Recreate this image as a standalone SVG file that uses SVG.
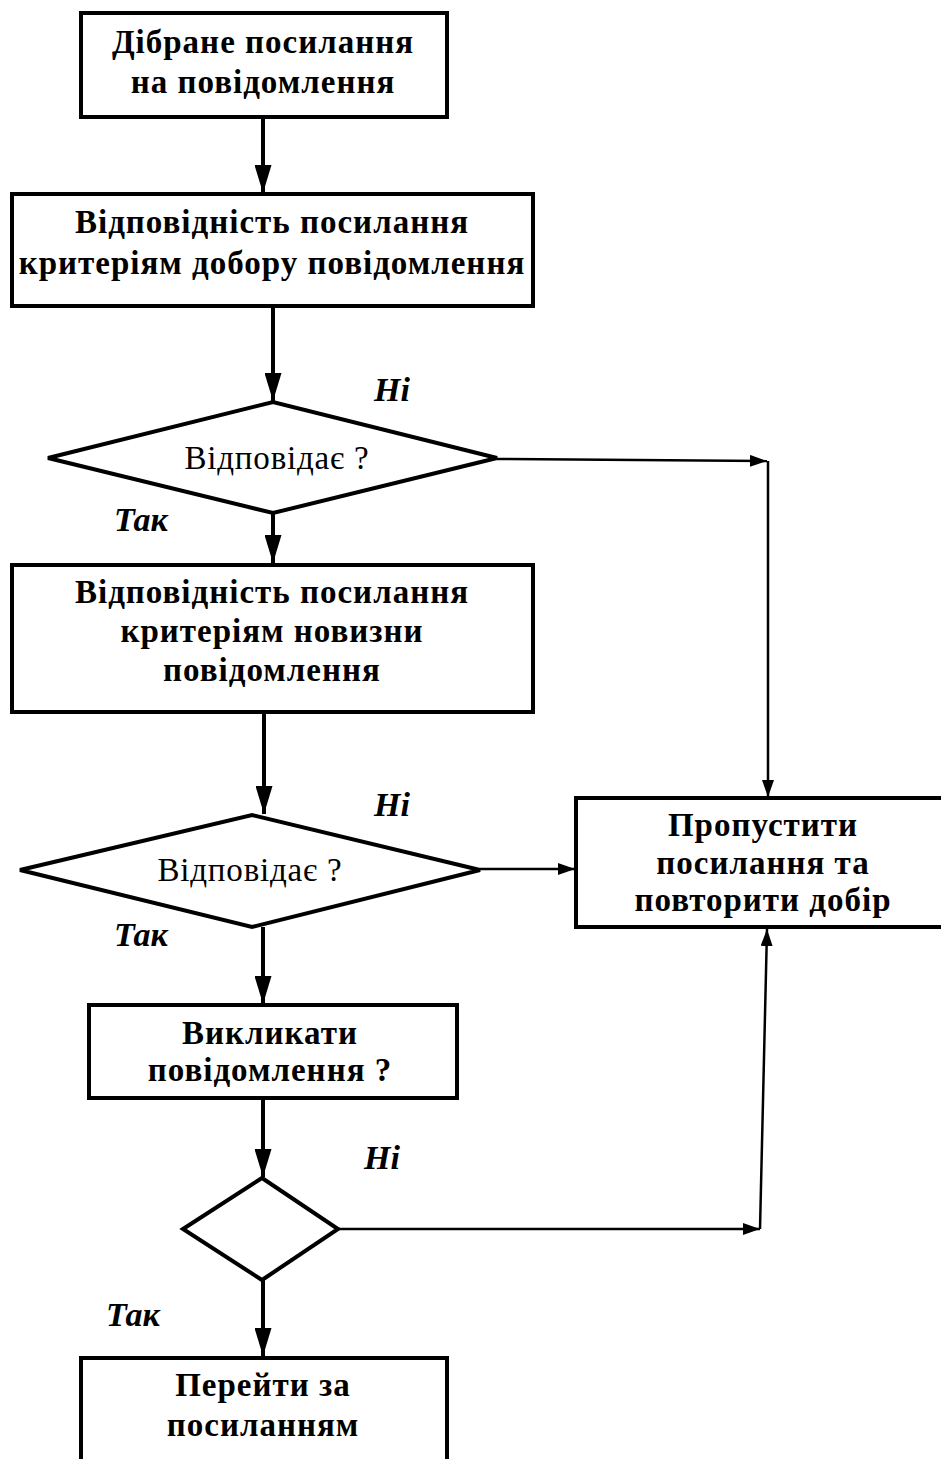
<svg xmlns="http://www.w3.org/2000/svg" width="941" height="1459" viewBox="0 0 941 1459">
  <style>
    .box { fill: #ffffff; stroke: #000000; stroke-width: 4; }
    .dia { fill: #ffffff; stroke: #000000; stroke-width: 4; stroke-linejoin: miter; }
    .t { font-family: "Liberation Serif", "Times New Roman", serif; font-size: 33px; letter-spacing: 1px; font-weight: bold; text-anchor: middle; fill: #000000; }
    .q { font-family: "Liberation Serif", "Times New Roman", serif; font-size: 33px; letter-spacing: 0.8px; text-anchor: middle; fill: #000000; }
    .lbl { font-family: "Liberation Serif", "Times New Roman", serif; font-size: 34px; font-weight: bold; font-style: italic; fill: #000000; }
    .main { fill: none; stroke: #000000; stroke-width: 4; marker-end: url(#arrowBig); }
    .sideArrow { fill: none; stroke: #000000; stroke-width: 2.5; marker-end: url(#arrowSmall); }
  </style>
  <defs>
    <marker id="arrowBig" markerUnits="userSpaceOnUse" markerWidth="28" markerHeight="17" refX="28" refY="8.5" viewBox="0 0 28 17" orient="auto">
      <path d="M0,0 L28,8.5 L0,17 z" fill="#000000"/>
    </marker>
    <marker id="arrowSmall" markerUnits="userSpaceOnUse" markerWidth="17" markerHeight="12" refX="17" refY="6" viewBox="0 0 17 12" orient="auto">
      <path d="M0,0 L17,6 L0,12 z" fill="#000000"/>
    </marker>
  </defs>

  <rect width="941" height="1459" fill="#ffffff"/>

  <!-- connectors -->
  <g id="connectors">
    <line class="main" x1="263" y1="117" x2="263" y2="193"/>
    <line class="main" x1="273" y1="306" x2="273" y2="401"/>
    <line class="main" x1="273" y1="513" x2="273" y2="563"/>
    <line class="main" x1="264" y1="712" x2="264" y2="814"/>
    <line class="main" x1="263" y1="927" x2="263" y2="1004"/>
    <line class="main" x1="263" y1="1098" x2="263" y2="1177"/>
    <line class="main" x1="263" y1="1280" x2="263" y2="1356"/>

    <line class="sideArrow" x1="497" y1="459" x2="767" y2="461"/>
    <line class="sideArrow" x1="768" y1="461" x2="768" y2="797"/>
    <line class="sideArrow" x1="480" y1="869" x2="575" y2="869"/>
    <line class="sideArrow" x1="338" y1="1229" x2="760" y2="1229"/>
    <line class="sideArrow" x1="760" y1="1229" x2="767" y2="929"/>

    <text class="lbl" x="374" y="401">Ні</text>
    <text class="lbl" x="114" y="531">Так</text>
    <text class="lbl" x="374" y="816">Ні</text>
    <text class="lbl" x="114" y="946">Так</text>
    <text class="lbl" x="364" y="1169">Ні</text>
    <text class="lbl" x="106" y="1326">Так</text>
  </g>

  <g id="n-selected">
    <rect class="box" x="81" y="13" width="366" height="104"/>
    <text class="t" x="263" y="53">Дібране посилання</text>
    <text class="t" x="263" y="93">на повідомлення</text>
  </g>

  <g id="n-criteria-select">
    <rect class="box" x="12" y="194" width="521" height="112"/>
    <text class="t" x="272" y="233">Відповідність посилання</text>
    <text class="t" x="272" y="274">критеріям добору повідомлення</text>
  </g>

  <g id="d-match1">
    <polygon class="dia" points="48,458 273,402 497,458 273,513"/>
    <text class="q" x="277" y="469">Відповідає ?</text>
  </g>

  <g id="n-criteria-new">
    <rect class="box" x="12" y="565" width="521" height="147"/>
    <text class="t" x="272" y="603">Відповідність посилання</text>
    <text class="t" x="272" y="642">критеріям новизни</text>
    <text class="t" x="272" y="681">повідомлення</text>
  </g>

  <g id="d-match2">
    <polygon class="dia" points="20,870 252,815 480,870 252,927"/>
    <text class="q" x="250" y="881">Відповідає ?</text>
  </g>

  <g id="n-skip">
    <rect class="box" x="576" y="798" width="380" height="129"/>
    <text class="t" x="763" y="836">Пропустити</text>
    <text class="t" x="763" y="874">посилання та</text>
    <text class="t" x="763" y="911">повторити добір</text>
  </g>

  <g id="n-call">
    <rect class="box" x="89" y="1005" width="368" height="93"/>
    <text class="t" x="270" y="1044">Викликати</text>
    <text class="t" x="270" y="1081">повідомлення ?</text>
  </g>

  <g id="d-call">
    <polygon class="dia" points="183,1229 262,1178 338,1229 262,1280"/>
  </g>

  <g id="n-follow">
    <rect class="box" x="81" y="1358" width="366" height="110"/>
    <text class="t" x="263" y="1396">Перейти за</text>
    <text class="t" x="263" y="1436">посиланням</text>
  </g>
</svg>
